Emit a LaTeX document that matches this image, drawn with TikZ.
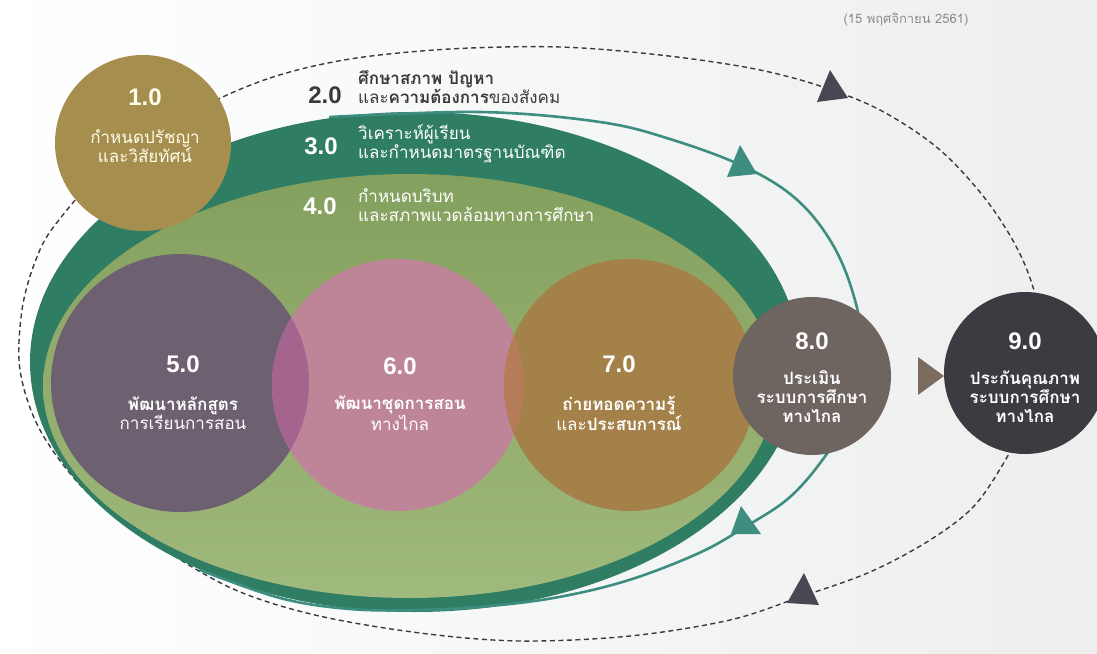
\documentclass[tikz,border=0pt]{standalone}
\usepackage{fontspec}
\setmainfont{Liberation Sans}
\newfontfamily\thai[Script=Thai]{Loma}
\usetikzlibrary{calc}
\definecolor{bgR}{HTML}{ECEFEE}
\definecolor{dashc}{HTML}{3A3A3A}
\definecolor{dgreen}{HTML}{2F7D63}
\definecolor{oliveT}{HTML}{84A05E}
\definecolor{oliveB}{HTML}{A0B97C}
\definecolor{tealc}{HTML}{3D8E80}
\definecolor{darkarr}{HTML}{474852}
\definecolor{cOne}{HTML}{A68E4F}
\definecolor{cFive}{HTML}{6D6070}
\definecolor{cSix}{HTML}{BE8599}
\definecolor{cSeven}{HTML}{A5814A}
\definecolor{cEight}{HTML}{6E6460}
\definecolor{cNine}{HTML}{3A3C41}
\definecolor{ovFS}{HTML}{A4648E}
\definecolor{ovSS}{HTML}{B47C58}
\definecolor{triC}{HTML}{7B6C5F}
\definecolor{txtDark}{HTML}{3A3A3A}
\definecolor{dateC}{HTML}{8C8C8C}
\tikzset{
  circ/.style={circle, inner sep=0pt, draw=none},
  numtxt/.style={font=\fontsize{24}{26}\selectfont\bfseries, text=white, inner sep=0pt},
  thaitxt/.style={font=\thai\fontsize{17}{19}\selectfont, text=white, align=center, inner sep=0pt},
  thaileft/.style={font=\thai\fontsize{17}{19}\selectfont, text=white, align=left, anchor=west, inner sep=0pt},
  dashline/.style={draw=dashc, line width=1.4pt, dash pattern=on 5pt off 3.5pt},
  tealline/.style={draw=tealc, line width=2.6pt, line cap=round},
}
\begin{document}
\begin{tikzpicture}[x=1pt,y=-1pt]
\useasboundingbox (0,0) rectangle (1097,653);
\shade[left color=white, right color=bgR] (0,0) rectangle (1097,653);

% outer dashed cycle
\draw[dashline] plot[smooth cycle, tension=0.55] coordinates {
 (197,110) (270,78) (350,59) (450,49) (560,47) (660,55) (750,68) (817,85)
 (880,110) (940,150) (990,205) (1025,265) (1042,330) (1035,400) (1010,452)
 (975,505) (930,540) (870,572) (800,597) (730,620) (630,636) (520,641)
 (420,633) (315,615) (231,588) (150,540) (85,490) (40,430) (20,370) (22,310)
 (35,262) (55,225) (110,165)};

% ellipses 3.0 and 4.0
\fill[dgreen] (415,362) ellipse [x radius=385pt, y radius=250pt];
\shade[top color=oliveT, bottom color=oliveB] (409,386) ellipse [x radius=366pt, y radius=212pt];

% teal cycle line
\draw[tealline] plot[smooth, tension=0.6] coordinates {
 (330,117) (480,112) (600,122) (673,140) (745,167) (795,198) (830,240) (852,290)
 (862,345) (852,410) (826,455) (790,497) (745,527) (699,553) (629,580) (559,597)
 (490,606) (420,610) (350,609) (280,598) (200,570)};

% arrowheads
\coordinate (tA) at (757,174); \coordinate (tA1) at (740,145); \coordinate (tA2) at (727,177);
\coordinate (tB) at (731,534); \coordinate (tB1) at (741,506); \coordinate (tB2) at (761,534);
\coordinate (dA) at (848,98);  \coordinate (dA1) at (830,70);  \coordinate (dA2) at (817,102);
\coordinate (dB) at (787,603); \coordinate (dB1) at (804,573); \coordinate (dB2) at (819,605);
\fill[tealc] (tA) -- (tA1) -- (tA2) -- cycle;
\fill[tealc] (tB) -- (tB1) -- (tB2) -- cycle;
\fill[darkarr] (dA) -- (dA1) -- (dA2) -- cycle;
\fill[darkarr] (dB) -- (dB1) -- (dB2) -- cycle;

% circles
\node[circ, fill=cOne, minimum size=176pt] (c1) at (143,143) {};
\node[circ, fill=cFive, minimum size=258pt] (c5) at (180,383) {};
\node[circ, fill=cSix, minimum size=252pt] (c6) at (398,385) {};
\node[circ, fill=cSeven, minimum size=252pt] (c7) at (630,385) {};
\begin{scope}
  \clip (180,383) circle [radius=129pt];
  \fill[ovFS] (398,385) circle [radius=126pt];
\end{scope}
\begin{scope}
  \clip (398,385) circle [radius=126pt];
  \fill[ovSS] (630,385) circle [radius=126pt];
\end{scope}
\node[circ, fill=cEight, minimum size=158pt] (c8) at (812,376) {};
\node[circ, fill=cNine, minimum size=162pt] (c9) at (1025,373) {};
\fill[triC] (918,357) -- (944,376) -- (918,395) -- cycle;

% texts
\node[font=\thai\fontsize{13}{15}\selectfont, text=dateC, inner sep=0pt] (date) at (906,20) {(15 พฤศจิกายน 2561)};

\node[numtxt, text=white!92!yellow] (n1) at (145,97) {1.0};
\node[thaitxt, text=white!92!yellow] (t1) at (145,146) {กำหนดปรัชญา\\และวิสัยทัศน์};

\node[numtxt, text=txtDark] (n2) at (325,95) {2.0};
\node[thaileft, text=txtDark] (t2) at (358,87) {{\bfseries ศึกษาสภาพ ปัญหา}\\และ{\bfseries ความต้องการ}ของสังคม};

\node[numtxt] (n3) at (321,146) {3.0};
\node[thaileft] (t3) at (358,144) {วิเคราะห์ผู้เรียน\\และกำหนดมาตรฐานบัณฑิต};

\node[numtxt] (n4) at (320,206) {4.0};
\node[thaileft] (t4) at (358,205) {กำหนดบริบท\\และสภาพแวดล้อมทางการศึกษา};

\node[numtxt] (n5) at (183,364) {5.0};
\node[thaitxt] (t5) at (183,413) {{\bfseries พัฒนาหลักสูตร}\\การเรียนการสอน};

\node[numtxt] (n6) at (400,366) {6.0};
\node[thaitxt] (t6) at (400,413) {{\bfseries พัฒนาชุดการสอน}\\ทางไกล};

\node[numtxt] (n7) at (619,364) {7.0};
\node[thaitxt] (t7) at (619,413) {{\bfseries ถ่ายทอดความรู้}\\และ{\bfseries ประสบการณ์}};

\node[numtxt] (n8) at (812,341) {8.0};
\node[thaitxt, font=\thai\bfseries\fontsize{17}{19}\selectfont] (t8) at (812,397) {ประเมิน\\ระบบการศึกษา\\ทางไกล};

\node[numtxt] (n9) at (1025,341) {9.0};
\node[thaitxt, font=\thai\bfseries\fontsize{17}{19}\selectfont] (t9) at (1025,397) {ประกันคุณภาพ\\ระบบการศึกษา\\ทางไกล};
\end{tikzpicture}
\end{document}
